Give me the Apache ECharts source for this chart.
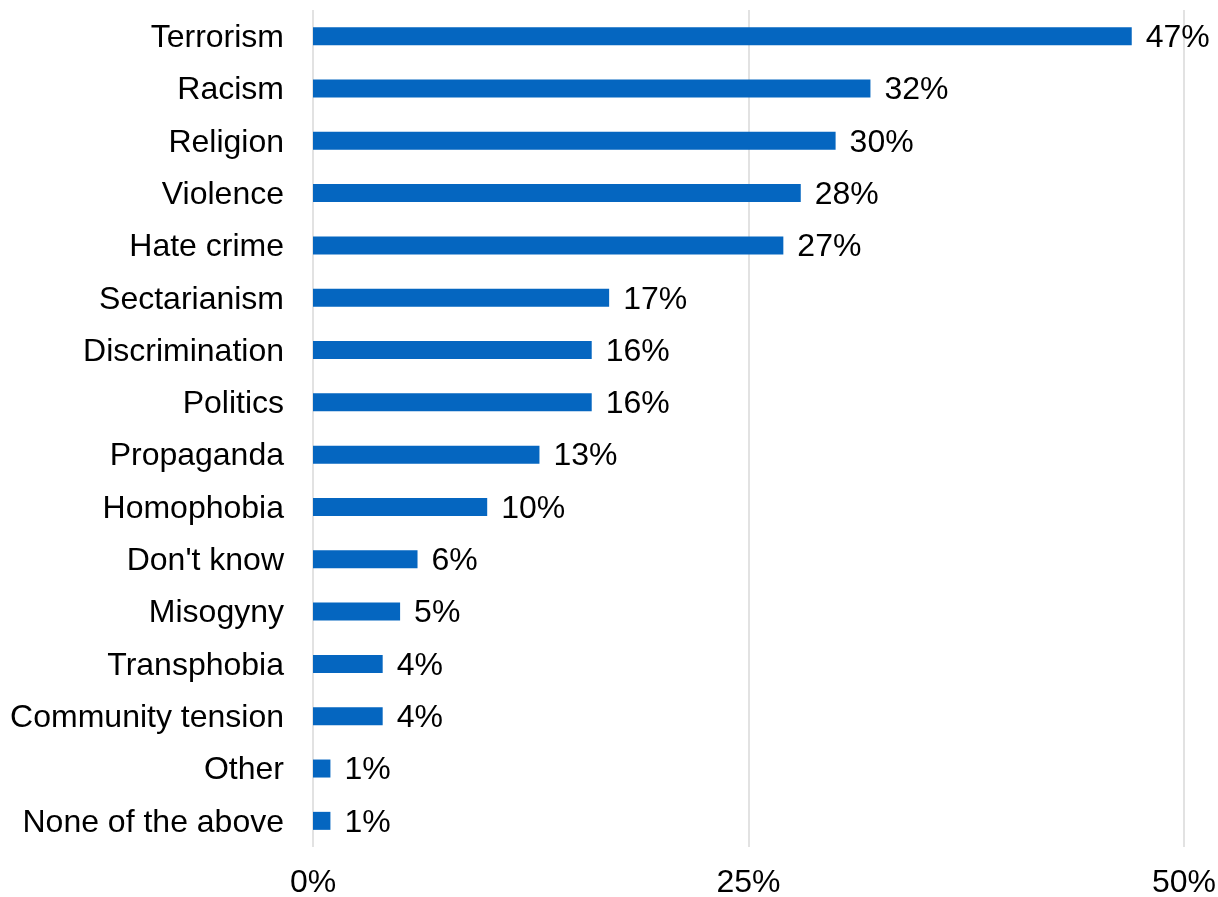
<!DOCTYPE html>
<html>
<head>
<meta charset="utf-8">
<script src="https://cdn.jsdelivr.net/npm/echarts@6/dist/echarts.min.js"></script>
<style>
  html, body { margin: 0; padding: 0; background: #fff; }
  #chart { width: 1218px; height: 897px; }
</style>
</head>
<body>
<div id="chart"></div>
<script>
// Survey answers, top to bottom
const categories = [
  'Terrorism', 'Racism', 'Religion', 'Violence', 'Hate crime',
  'Sectarianism', 'Discrimination', 'Politics', 'Propaganda', 'Homophobia',
  "Don't know", 'Misogyny', 'Transphobia', 'Community tension', 'Other',
  'None of the above'
];
// Share of respondents (%)
const shares = [47, 32, 30, 28, 27, 17, 16, 16, 13, 10, 6, 5, 4, 4, 1, 1];
// Value axis ticks
const axisMin = 0, axisMax = 50, axisStep = 25;

const font = 'Liberation Sans, Arial, sans-serif';
const chart = echarts.init(document.getElementById('chart'));
chart.setOption({
  animation: false,
  grid: {
    left: 313, right: 34, top: 10, bottom: 50,
    containLabel: false, outerBoundsMode: 'none'
  },
  xAxis: {
    type: 'value',
    min: axisMin, max: axisMax, interval: axisStep,
    axisLine: { show: false },
    axisTick: { show: false },
    splitLine: { show: true, lineStyle: { color: '#d9d9d9', width: 1.5 } },
    axisLabel: {
      formatter: v => v + '%',
      color: '#000', fontFamily: font, fontSize: 32, margin: 20
    }
  },
  yAxis: {
    type: 'category',
    data: categories,
    inverse: true,
    axisLine: { show: false },
    axisTick: { show: false },
    axisLabel: {
      color: '#000', fontFamily: font, fontSize: 32, margin: 29,
      formatter: v => '{c|' + v + '}',
      rich: { c: { fontFamily: font, fontSize: 32, color: '#000', padding: [4, 0, 0, 0] } }
    }
  },
  series: [{
    type: 'bar',
    data: shares,
    barWidth: 18,
    itemStyle: { color: '#0566c0' },
    label: {
      show: true, position: 'right', distance: 14,
      formatter: p => p.value + '%',
      color: '#000', fontFamily: font, fontSize: 32, offset: [0, 2]
    }
  }]
});
</script>
</body>
</html>
